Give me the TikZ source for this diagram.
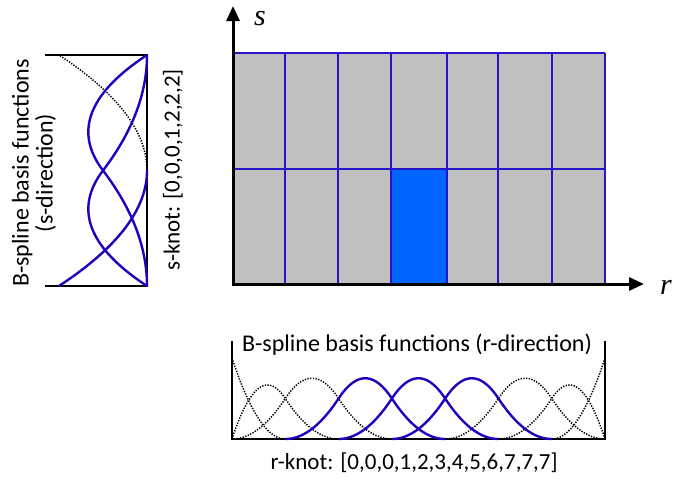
\documentclass[tikz,border=0pt]{standalone}
\usepackage{fontspec}
\setmainfont{Carlito}
\newfontfamily\tnrfont{Liberation Serif}
\usetikzlibrary{arrows.meta}
\definecolor{gridblue}{RGB}{40,20,200}
\definecolor{curveblue}{RGB}{34,0,190}
\definecolor{cellgray}{RGB}{192,192,192}
\definecolor{hiblue}{RGB}{0,102,255}
\newcommand\Bspl[2]{%
  \draw[#2] plot[domain=0:1,samples=25,variable=\u] ({232+53.29*(#1+\u)},{439-81*0.5*\u*\u})
    -- plot[domain=0:1,samples=25,variable=\u] ({232+53.29*(#1+1+\u)},{439-81*0.5*(-2*\u*\u+2*\u+1)})
    -- plot[domain=0:1,samples=25,variable=\u] ({232+53.29*(#1+2+\u)},{439-81*0.5*(1-\u)*(1-\u)});}
\begin{document}
\begin{tikzpicture}[x=1pt,y=-1pt,
  axis/.style={line width=3pt,-{Triangle[length=15pt,width=13pt]}},
  frame/.style={line width=2.8pt},
  gridline/.style={gridblue,line width=1.8pt},
  basis/.style={curveblue,line width=2.4pt},
  other/.style={black,line width=1.5pt,dash pattern=on 1.3pt off 1.4pt},
  lbl/.style={font=\fontsize{24}{24}\selectfont,inner sep=0pt},
  knot/.style={font=\fontsize{23}{23}\selectfont,inner sep=0pt},
  axl/.style={font=\fontsize{30}{30}\selectfont\tnrfont\itshape,inner sep=0pt}]
\useasboundingbox (0,0) rectangle (675,479);
% grid
\fill[cellgray] (233,53) rectangle (605,284);
\fill[hiblue] (391,169) rectangle (447,284);
\foreach \x in {233,285,338,391,447,498,552,605}
  \draw[gridline] (\x,53) -- (\x,284);
\draw[gridline] (233,53) -- (605,53);
\draw[gridline] (233,169) -- (605,169);
% axes
\coordinate (O) at (233,284);
\coordinate (stip) at (233,6);
\coordinate (rtip) at (644,284);
\draw[axis] ([yshift=-1.5pt]O) -- (stip);
\draw[axis] ([xshift=-1.5pt]O) -- (rtip);
\node[axl] (slab) at (260,19) {s};
\node[axl] (rlab) at (666,287) {r};
% left plot (s-direction)
\draw[frame] (45,55) -- (147,55) -- (147,286) -- (45,286);
\draw[other] plot[domain=1:2,samples=40,variable=\s] ({147-88*(\s-1)*(\s-1)},{286-115.5*\s});
\draw[basis] plot[domain=0:1,samples=40,variable=\s] ({147-88*(1-\s)*(1-\s)},{286-115.5*\s});
\draw[basis] plot[domain=0:1,samples=40,variable=\s] ({147-88*(2*\s-1.5*\s*\s)},{286-115.5*\s})
  -- plot[domain=1:2,samples=40,variable=\s] ({147-88*0.5*(2-\s)*(2-\s)},{286-115.5*\s});
\draw[basis] plot[domain=0:1,samples=40,variable=\s] ({147-88*(2*\s-1.5*\s*\s)},{55+115.5*\s})
  -- plot[domain=1:2,samples=40,variable=\s] ({147-88*0.5*(2-\s)*(2-\s)},{55+115.5*\s});
\node[lbl,rotate=90,align=center] (stitle) at (34,173) {B-spline basis functions\\(s-direction)};
\node[knot,rotate=90] (sknot) at (173,170) {s-knot: [0,0,0,1,2,2,2]};
% bottom plot (r-direction)
\draw[frame] (232,341) -- (232,439) -- (605,439) -- (605,341);
\draw[other] plot[domain=0:1,samples=40,variable=\u] ({232+53.29*\u},{439-81*(1-\u)*(1-\u)});
\draw[other] plot[domain=0:1,samples=40,variable=\u] ({232+53.29*\u},{439-81*(2*\u-1.5*\u*\u)})
  -- plot[domain=1:2,samples=40,variable=\u] ({232+53.29*\u},{439-81*0.5*(2-\u)*(2-\u)});
\Bspl{0}{other}
\Bspl{4}{other}
\draw[other] plot[domain=0:1,samples=40,variable=\u] ({232+53.29*(7-\u)},{439-81*(2*\u-1.5*\u*\u)})
  -- plot[domain=1:2,samples=40,variable=\u] ({232+53.29*(7-\u)},{439-81*0.5*(2-\u)*(2-\u)});
\draw[other] plot[domain=0:1,samples=40,variable=\u] ({232+53.29*(7-\u)},{439-81*(1-\u)*(1-\u)});
\Bspl{1}{basis}
\Bspl{2}{basis}
\Bspl{3}{basis}
\node[lbl] (rtitle) at (417,345) {B-spline basis functions (r-direction)};
\node[knot] (rknot) at (414,463) {r-knot: [0,0,0,1,2,3,4,5,6,7,7,7]};
\end{tikzpicture}
\end{document}
